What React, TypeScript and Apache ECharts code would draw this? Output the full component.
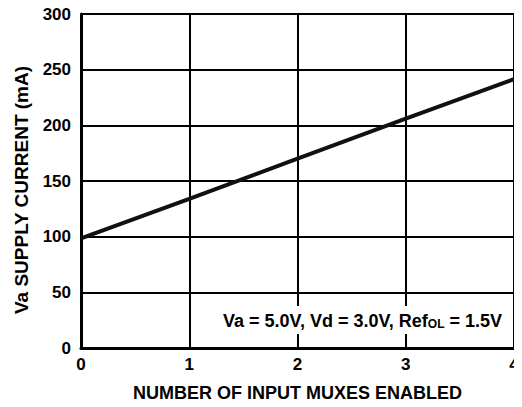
import React, { useEffect, useRef } from "react";
import * as echarts from "echarts";

const xValues = [0, 1, 2, 3, 4];
const supplyCurrent = [98.5, 134, 170, 206, 241.5];
const xTicks = ["0", "1", "2", "3", "4"];
const yTicks = [0, 50, 100, 150, 200, 250, 300];
const xTitle = "NUMBER OF INPUT MUXES ENABLED";
const yTitle = "Va SUPPLY CURRENT (mA)";

export default function App() {
  const ref = useRef<HTMLDivElement>(null);
  useEffect(() => {
    if (!ref.current) return;
    const chart = echarts.init(ref.current, null, { renderer: "svg" });
    const font = "Liberation Sans, Arial, sans-serif";
    chart.setOption({
      animation: false,
      backgroundColor: "#fff",
      grid: { left: 81, right: 8, top: 14, bottom: 56, containLabel: false },
      xAxis: {
        type: "value",
        min: 0,
        max: 4,
        interval: 1,
        name: xTitle,
        nameLocation: "middle",
        nameGap: 36,
        nameTextStyle: { fontFamily: font, fontWeight: "bold", fontSize: 18, color: "#000" },
        axisLine: { show: true, lineStyle: { color: "#000", width: 3 } },
        axisTick: { show: false },
        axisLabel: {
          fontFamily: font, fontWeight: "bold", fontSize: 17, color: "#000", margin: 8,
          formatter: (v: number) => xTicks[v] ?? String(v),
        },
        splitLine: { show: true, lineStyle: { color: "#000", width: 2 } },
      },
      yAxis: {
        type: "value",
        min: yTicks[0],
        max: yTicks[yTicks.length - 1],
        interval: 50,
        axisLine: { show: true, lineStyle: { color: "#000", width: 3 } },
        axisTick: { show: false },
        axisLabel: { fontFamily: font, fontWeight: "bold", fontSize: 17, color: "#000", margin: 10 },
        splitLine: { show: true, lineStyle: { color: "#000", width: 2 } },
      },
      series: [
        {
          type: "line",
          data: xValues.map((x, i) => [x, supplyCurrent[i]]),
          symbol: "none",
          lineStyle: { color: "#111", width: 4 },
          z: 5,
        },
      ],
      graphic: [
        {
          type: "text",
          x: 21,
          y: 190,
          rotation: Math.PI / 2,
          style: {
            text: yTitle,
            fontFamily: font,
            fontWeight: "bold",
            fontSize: 19,
            fill: "#000",
            align: "center",
            verticalAlign: "middle",
          },
        },
        {
          type: "text",
          x: 505,
          y: 320,
          z: 10,
          style: {
            text: "{n|Va = 5.0V, Vd = 3.0V, Ref}{s|OL}{n| = 1.5V}",
            align: "right",
            verticalAlign: "middle",
            backgroundColor: "#fff",
            padding: [4, 3, 4, 4],
            rich: {
              n: { fontFamily: font, fontWeight: "bold", fontSize: 18, fill: "#000", verticalAlign: "bottom", lineHeight: 20 },
              s: { fontFamily: font, fontWeight: "bold", fontSize: 12, fill: "#000", verticalAlign: "bottom", lineHeight: 17 },
            },
          },
        },
      ],
    });
    return () => chart.dispose();
  }, []);
  return <div ref={ref} style={{ width: 522, height: 407, margin: -8 }} />;
}
